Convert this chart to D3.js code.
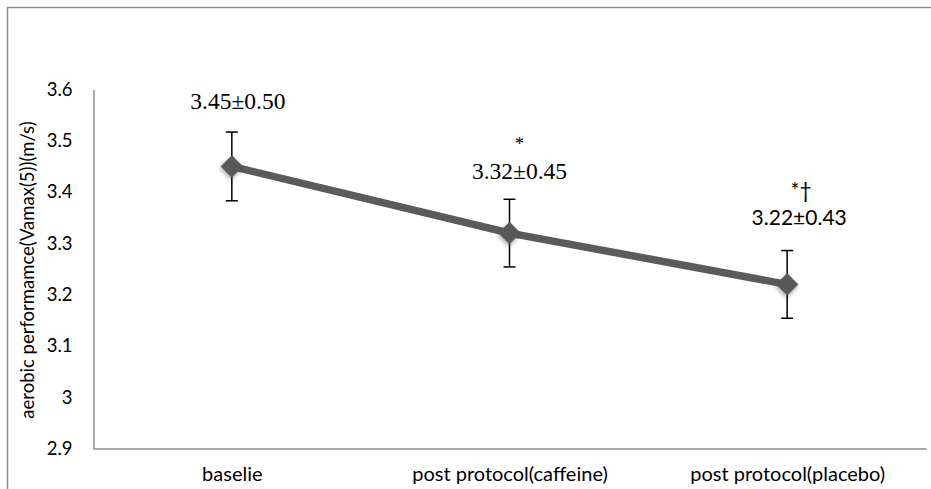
<!DOCTYPE html>
<html><head><meta charset="utf-8">
<script src="https://cdn.jsdelivr.net/npm/d3@7"></script>
<style>body{margin:0;background:#fff}svg{display:block}</style>
</head><body>
<svg id="c" width="931" height="489"></svg>
<script>
const categories = ["baselie", "post protocol(caffeine)", "post protocol(placebo)"];
const means = [3.45, 3.32, 3.22];
const errors = [0.067, 0.066, 0.066];
const valueLabels = ["3.45\u00B10.50", "3.32\u00B10.45", "3.22\u00B10.43"];
const markLabels = ["", "*", "*\u2020"];
const yTicks = [2.9, 3.0, 3.1, 3.2, 3.3, 3.4, 3.5, 3.6];
const yTitle = "aerobic performamce(Vamax(5))(m/s)";

const svg = d3.select("#c");
const sans = "Lato, 'Open Sans', sans-serif";
const serif = "'Liberation Serif', 'DejaVu Serif', serif";

// outer border
svg.append("rect").attr("x", 7.5).attr("y", 7.5).attr("width", 940).attr("height", 500)
  .attr("fill", "none").attr("stroke", "#8c8c8c").attr("stroke-width", 1.5);

const x = d3.scalePoint().domain(categories).range([93, 926]).padding(0.5);
const y = d3.scaleLinear().domain([2.9, 3.6]).range([448.5, 89.5]);

const yAxis = d3.axisLeft(y).tickValues(yTicks).tickSize(0).tickPadding(21)
  .tickFormat(d => d3.format("")(+d.toFixed(1)));
const gy = svg.append("g").attr("transform", "translate(93.5,0)").call(yAxis);
gy.select(".domain").attr("stroke", "#8c8c8c").attr("stroke-width", 1.5);
gy.selectAll("text").attr("font-family", sans).attr("font-size", 18.5).attr("fill", "#000");

const xAxis = d3.axisBottom(x).tickSize(0).tickPadding(18);
const gx = svg.append("g").attr("transform", "translate(0,448.5)").call(xAxis);
gx.select(".domain").attr("stroke", "#8c8c8c").attr("stroke-width", 1.5);
gx.selectAll("text").attr("font-family", sans).attr("font-size", 20).attr("fill", "#000");

svg.append("text").attr("transform", "translate(28,270) rotate(-90)")
  .attr("text-anchor", "middle").attr("dy", "0.35em").attr("font-family", sans).attr("font-size", 18.5)
  .text(yTitle);

const defs = svg.append("defs");
const f = defs.append("filter").attr("id", "sh").attr("x", "-50%").attr("y", "-50%").attr("width", "200%").attr("height", "200%");
f.append("feDropShadow").attr("dx", 1).attr("dy", 2).attr("stdDeviation", 2).attr("flood-color", "#000").attr("flood-opacity", 0.35);

const data = categories.map((c, i) => ({c, m: means[i], e: errors[i], lab: valueLabels[i], mk: markLabels[i], i}));

// line
svg.append("path").datum(data)
  .attr("d", d3.line().x(d => x(d.c)).y(d => y(d.m)))
  .attr("fill", "none").attr("stroke", "#5b5b5b").attr("stroke-width", 7.5)
  .attr("stroke-linejoin", "round");

// error bars
const eb = svg.append("g").attr("stroke", "#000").attr("stroke-width", 1.5);
data.forEach(d => {
  const cx = x(d.c);
  eb.append("line").attr("x1", cx).attr("x2", cx).attr("y1", y(d.m + d.e)).attr("y2", y(d.m - d.e));
  eb.append("line").attr("x1", cx - 6).attr("x2", cx + 6).attr("y1", y(d.m + d.e)).attr("y2", y(d.m + d.e));
  eb.append("line").attr("x1", cx - 6).attr("x2", cx + 6).attr("y1", y(d.m - d.e)).attr("y2", y(d.m - d.e));
});

// markers
svg.append("g").selectAll("path").data(data).join("path")
  .attr("d", d3.symbol().type(d3.symbolSquare).size(250))
  .attr("transform", d => `translate(${x(d.c)},${y(d.m)}) rotate(45)`)
  .attr("fill", "#585858").attr("filter", "url(#sh)");

// value labels (offsets relative to each point)
const labDx = [6, 10, 12];
const labDy = [-57, -54, -59.5];
const labFont = [serif, serif, sans];
const labSize = [23.5, 23.5, 21];
data.forEach((d, i) => {
  svg.append("text").attr("x", x(d.c) + labDx[i]).attr("y", y(d.m) + labDy[i])
    .attr("text-anchor", "middle").attr("font-family", labFont[i]).attr("font-size", labSize[i]).text(d.lab);
});
// significance marks
const mkDx = [0, 10, 14];
const mkDy = [0, -83, -86];
const mkFont = [serif, serif, sans];
const mkSize = [18, 18, 21];
data.forEach((d, i) => {
  if (!d.mk) return;
  svg.append("text").attr("x", x(d.c) + mkDx[i]).attr("y", y(d.m) + mkDy[i])
    .attr("text-anchor", "middle").attr("font-family", mkFont[i]).attr("font-size", mkSize[i]).text(d.mk);
});
</script>
</body></html>
